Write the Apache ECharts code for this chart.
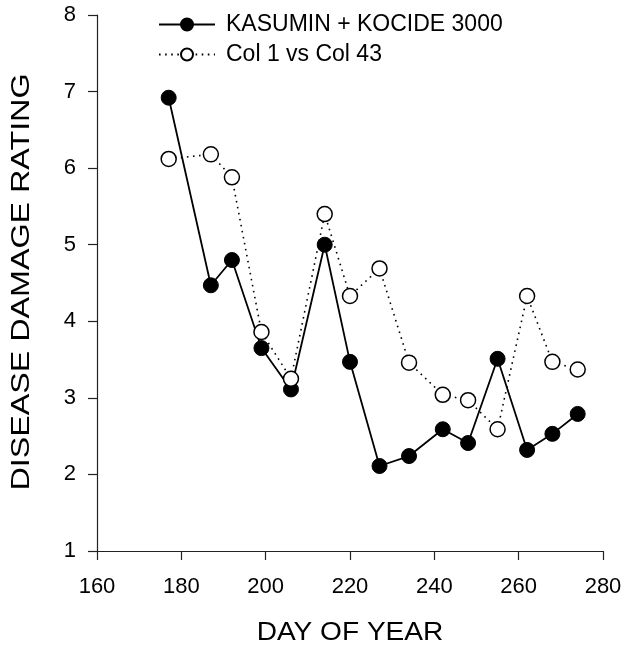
<!DOCTYPE html>
<html>
<head>
<meta charset="utf-8">
<script src="https://cdn.jsdelivr.net/npm/echarts@6/dist/echarts.min.js"></script>
<style>
  html, body { margin: 0; padding: 0; background: #fff; }
  #chart { width: 639px; height: 653px; }
</style>
</head>
<body>
<div id="chart"></div>
<script>
// Day of year for each rating
const days = [177, 187, 192, 199, 206, 214, 220, 227, 234, 242, 248, 255, 262, 268, 274];
// Disease damage ratings
const kasuminKocide = [6.92, 4.47, 4.80, 3.65, 3.11, 5.00, 3.47, 2.11, 2.24, 2.59, 2.41, 3.51, 2.32, 2.53, 2.79];
const col1VsCol43 = [6.12, 6.18, 5.88, 3.86, 3.25, 5.40, 4.33, 4.69, 3.46, 3.04, 2.97, 2.59, 4.33, 3.47, 3.37];
const seriesNames = ['KASUMIN + KOCIDE 3000', 'Col 1 vs Col 43'];
const xTitle = 'DAY OF YEAR';
const yTitle = 'DISEASE DAMAGE RATING';
const xTicks = { min: 160, max: 280, step: 20 };
const yTicks = { min: 1, max: 8, step: 1 };

const pairs = (xs, ys) => xs.map((x, i) => [x, ys[i]]);
const FONT = '"Liberation Sans", Arial, sans-serif';

const chart = echarts.init(document.getElementById('chart'), null, { renderer: 'canvas' });
chart.setOption({
  animation: false,
  backgroundColor: '#ffffff',
  grid: { left: 97, right: 36, top: 15, bottom: 102, containLabel: false },
  legend: {
    orient: 'vertical',
    left: 153,
    top: 7,
    itemWidth: 56,
    itemHeight: 15,
    itemGap: 5,
    textStyle: { fontFamily: FONT, fontSize: 23, color: '#000', padding: [0, 0, 0, 6], lineHeight: 25 },
    data: seriesNames
  },
  // axis titles, stretched along their baselines
  graphic: [
    {
      type: 'text', x: 350, y: 633, scaleX: 1.08,
      style: { text: xTitle, font: '26px ' + FONT, fill: '#000', textAlign: 'center', textVerticalAlign: 'middle' }
    },
    {
      type: 'text', x: 22, y: 282, rotation: Math.PI / 2, scaleX: 1.29,
      style: { text: yTitle, font: '25px ' + FONT, fill: '#000', textAlign: 'center', textVerticalAlign: 'middle' }
    }
  ],
  xAxis: {
    type: 'value',
    min: xTicks.min, max: xTicks.max, interval: xTicks.step,
    axisLine: { show: true, onZero: false, lineStyle: { color: '#222', width: 1.2 } },
    axisTick: { show: true, inside: false, length: 9, lineStyle: { color: '#222', width: 1.2 } },
    axisLabel: { margin: 25, fontFamily: FONT, fontSize: 22, color: '#000' },
    splitLine: { show: false }
  },
  yAxis: {
    type: 'value',
    min: yTicks.min, max: yTicks.max, interval: yTicks.step,
    axisLine: { show: true, onZero: false, lineStyle: { color: '#222', width: 1.2 } },
    axisTick: { show: true, inside: false, length: 9, lineStyle: { color: '#222', width: 1.2 } },
    axisLabel: { margin: 21, fontFamily: FONT, fontSize: 22, color: '#000' },
    splitLine: { show: false }
  },
  series: [
    {
      name: seriesNames[0],
      type: 'line',
      data: pairs(days, kasuminKocide),
      symbol: 'circle',
      symbolSize: 15,
      showAllSymbol: true,
      itemStyle: { color: '#000', borderColor: '#000', borderWidth: 1 },
      lineStyle: { color: '#000', width: 1.8, type: 'solid' },
      z: 2
    },
    {
      name: seriesNames[1],
      type: 'line',
      data: pairs(days, col1VsCol43),
      symbol: 'circle',
      symbolSize: 15,
      showAllSymbol: true,
      itemStyle: { color: '#fff', borderColor: '#000', borderWidth: 1.5 },
      lineStyle: { color: '#000', width: 1.6, type: [1.6, 4.5] },
      z: 3
    }
  ]
});
</script>
</body>
</html>
